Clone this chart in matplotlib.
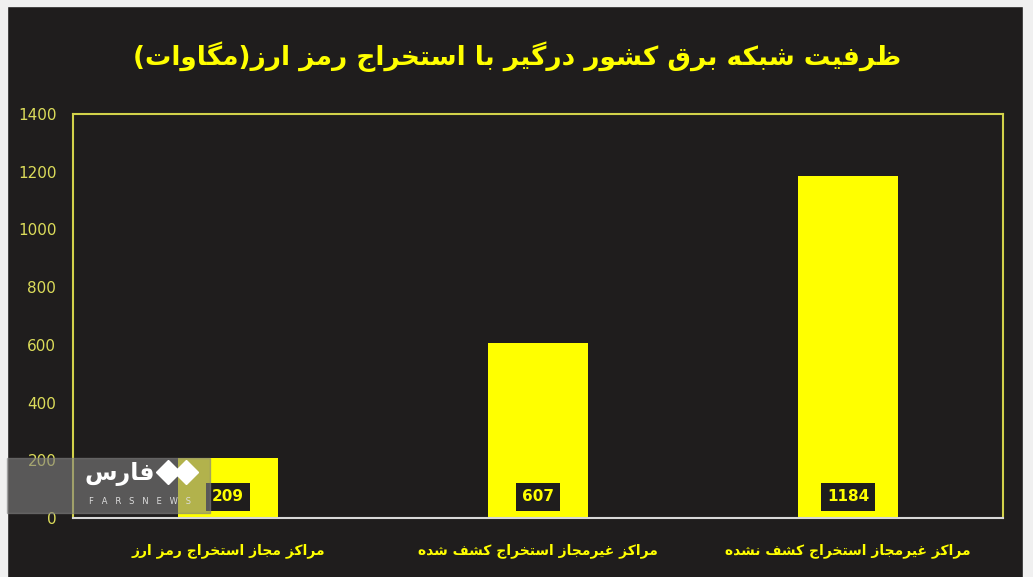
import matplotlib
matplotlib.use("Agg")
import matplotlib.pyplot as plt
from matplotlib.patches import Rectangle
from matplotlib.lines import Line2D

# data
categories = [
    "مراکز مجاز استخراج رمز ارز",
    "مراکز غیرمجاز استخراج کشف شده",
    "مراکز غیرمجاز استخراج کشف نشده",
]
values = [209, 607, 1184]
yticks = [0, 200, 400, 600, 800, 1000, 1200, 1400]
title = "ظرفیت شبکه برق کشور درگیر با استخراج رمز ارز(مگاوات)"

BG = "#1f1d1d"
YELLOW = "#ffff00"
TICK = "#dcdc5a"

# matplotlib does no Arabic shaping, so map letters to presentation forms
# (isolated, final, initial, medial); two entries = right-joining only
FORMS = {
    "ا": (0xFE8D, 0xFE8E), "آ": (0xFE81, 0xFE82),
    "ب": (0xFE8F, 0xFE90, 0xFE91, 0xFE92), "پ": (0xFB56, 0xFB57, 0xFB58, 0xFB59),
    "ت": (0xFE95, 0xFE96, 0xFE97, 0xFE98), "ث": (0xFE99, 0xFE9A, 0xFE9B, 0xFE9C),
    "ج": (0xFE9D, 0xFE9E, 0xFE9F, 0xFEA0), "چ": (0xFB7A, 0xFB7B, 0xFB7C, 0xFB7D),
    "ح": (0xFEA1, 0xFEA2, 0xFEA3, 0xFEA4), "خ": (0xFEA5, 0xFEA6, 0xFEA7, 0xFEA8),
    "د": (0xFEA9, 0xFEAA), "ذ": (0xFEAB, 0xFEAC), "ر": (0xFEAD, 0xFEAE),
    "ز": (0xFEAF, 0xFEB0), "ژ": (0xFB8A, 0xFB8B),
    "س": (0xFEB1, 0xFEB2, 0xFEB3, 0xFEB4), "ش": (0xFEB5, 0xFEB6, 0xFEB7, 0xFEB8),
    "ص": (0xFEB9, 0xFEBA, 0xFEBB, 0xFEBC), "ض": (0xFEBD, 0xFEBE, 0xFEBF, 0xFEC0),
    "ط": (0xFEC1, 0xFEC2, 0xFEC3, 0xFEC4), "ظ": (0xFEC5, 0xFEC6, 0xFEC7, 0xFEC8),
    "ع": (0xFEC9, 0xFECA, 0xFECB, 0xFECC), "غ": (0xFECD, 0xFECE, 0xFECF, 0xFED0),
    "ف": (0xFED1, 0xFED2, 0xFED3, 0xFED4), "ق": (0xFED5, 0xFED6, 0xFED7, 0xFED8),
    "ک": (0xFB8E, 0xFB8F, 0xFB90, 0xFB91), "گ": (0xFB92, 0xFB93, 0xFB94, 0xFB95),
    "ل": (0xFEDD, 0xFEDE, 0xFEDF, 0xFEE0), "م": (0xFEE1, 0xFEE2, 0xFEE3, 0xFEE4),
    "ن": (0xFEE5, 0xFEE6, 0xFEE7, 0xFEE8), "و": (0xFEED, 0xFEEE),
    "ه": (0xFEE9, 0xFEEA, 0xFEEB, 0xFEEC), "ی": (0xFBFC, 0xFBFD, 0xFBFE, 0xFBFF),
}
MIRROR = {"(": ")", ")": "("}


def rtl(s):
    out = []
    for i, c in enumerate(s):
        f = FORMS.get(c)
        if f is None:
            out.append(MIRROR.get(c, c))
            continue
        prev = s[i - 1] if i > 0 else ""
        nxt = s[i + 1] if i + 1 < len(s) else ""
        jp = prev in FORMS and len(FORMS[prev]) == 4
        jn = nxt in FORMS and len(f) == 4
        if jp and jn:
            g = f[3]
        elif jp:
            g = f[1]
        elif jn:
            g = f[2]
        else:
            g = f[0]
        out.append(chr(g))
    return "".join(out)[::-1]


plt.rcParams["font.family"] = ["DejaVu Sans"]

fig = plt.figure(figsize=(10.33, 5.77), dpi=100, facecolor=BG)
# light page margins around the dark panel
for rect in [(0, 0, 7 / 1033, 1), (1023 / 1033, 0, 10 / 1033, 1),
             (0, 571 / 577, 1, 6 / 577)]:
    fig.patches.append(Rectangle(rect[:2], rect[2], rect[3],
                                 transform=fig.transFigure, color="#f0f0f0", zorder=0))

ax = fig.add_axes([73 / 1033, 59 / 577, 930 / 1033, 404 / 577])
ax.set_zorder(1)
ax.set_facecolor(BG)
x = list(range(len(values)))
ax.bar(x, values, width=0.32, color=YELLOW, zorder=2)
ax.set_xlim(-0.5, 2.5)
ax.set_ylim(0, 1400)
ax.set_yticks(yticks)
ax.set_yticklabels([str(t) for t in yticks], color=TICK, fontsize=11)
ax.tick_params(axis="y", length=0, pad=12)
ax.set_xticks(x)
ax.set_xticklabels([rtl(c) for c in categories], color=YELLOW,
                   fontsize=10, fontweight="bold")
ax.tick_params(axis="x", length=0, pad=18)
for side in ("left", "top", "right"):
    ax.spines[side].set_color("#d2d24a")
    ax.spines[side].set_linewidth(1.5)
ax.spines["bottom"].set_color("#d8d8d8")
ax.spines["bottom"].set_linewidth(1.5)

for xi, v in zip(x, values):
    ax.text(xi, 73, str(v), ha="center", va="center", color=YELLOW,
            fontsize=11, fontweight="bold", zorder=4,
            bbox=dict(boxstyle="square,pad=0.4", fc=BG, ec="none"))

fig.text(517 / 1033, 1 - 57 / 577, rtl(title), ha="center", va="center",
         color=YELLOW, fontsize=19, fontweight="bold")

# watermark box in the lower-left corner
fig.patches.append(Rectangle((7 / 1033, (577 - 513) / 577), 203 / 1033, 55 / 577,
                             transform=fig.transFigure, color="#808080",
                             alpha=0.6, zorder=5))
fig.text(120 / 1033, 1 - 474 / 577, rtl("فارس"), ha="center", va="center",
         color="white", fontsize=17, fontweight="bold", zorder=6)
for dx in (168, 186):
    fig.add_artist(Line2D([dx / 1033], [1 - 472 / 577], marker="D", markersize=12,
                          color="white", transform=fig.transFigure, zorder=6))
fig.text(140 / 1033, 1 - 502 / 577, "F   A   R   S   N   E   W   S", ha="center",
         va="center", color="#dddddd", fontsize=6, zorder=6)

fig.savefig("out.png", dpi=100, facecolor=fig.get_facecolor())
